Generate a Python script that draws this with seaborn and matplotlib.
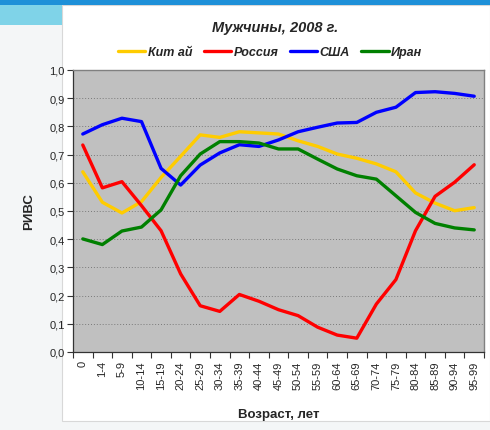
import numpy as np
import pandas as pd
import matplotlib
matplotlib.use("Agg")
import matplotlib.pyplot as plt
from matplotlib.patches import Rectangle
from matplotlib.ticker import FixedLocator, FuncFormatter
import seaborn as sns

ages = ["0", "1-4", "5-9", "10-14", "15-19", "20-24", "25-29", "30-34", "35-39",
        "40-44", "45-49", "50-54", "55-59", "60-64", "65-69", "70-74", "75-79",
        "80-84", "85-89", "90-94", "95-99"]
china = [0.639, 0.531, 0.493, 0.533, 0.619, 0.694, 0.770, 0.761, 0.781, 0.777, 0.773,
         0.749, 0.729, 0.702, 0.687, 0.667, 0.639, 0.564, 0.528, 0.501, 0.512]
russia = [0.734, 0.582, 0.604, 0.519, 0.430, 0.277, 0.164, 0.144, 0.204, 0.180, 0.150,
          0.129, 0.088, 0.060, 0.049, 0.170, 0.257, 0.430, 0.552, 0.602, 0.664]
usa = [0.773, 0.806, 0.829, 0.817, 0.651, 0.592, 0.663, 0.706, 0.735, 0.729, 0.752,
       0.781, 0.797, 0.812, 0.814, 0.850, 0.868, 0.920, 0.923, 0.917, 0.907]
iran = [0.401, 0.381, 0.429, 0.443, 0.504, 0.625, 0.702, 0.746, 0.746, 0.741, 0.720,
        0.720, 0.684, 0.649, 0.625, 0.613, 0.554, 0.495, 0.456, 0.440, 0.433]
series_names = ["Кит ай", "Россия", "США", "Иран"]
colors = ["#FFCC00", "#FF0000", "#0000FF", "#008000"]

df = pd.concat([
    pd.DataFrame({"x": np.arange(len(ages)), "v": vals, "s": name})
    for name, vals in zip(series_names, [china, russia, usa, iran])
])

sns.set_theme(style="white")
plt.rcParams["font.family"] = ["Liberation Sans", "DejaVu Sans"]

fig = plt.figure(figsize=(4.9, 4.31), dpi=100)
fig.patch.set_facecolor("#F4F6F7")
# slide decoration
fig.patches.append(Rectangle((62 / 490, 0.02), 428 / 490, 0.965, transform=fig.transFigure,
                             facecolor="white", edgecolor="#D8D8D8", lw=0.8, zorder=-5))
fig.patches.append(Rectangle((0, 0.985), 1, 0.015, transform=fig.transFigure,
                             facecolor="#1E90D8", edgecolor="none", zorder=-5))
fig.patches.append(Rectangle((0, 0.94), 62 / 490, 0.045, transform=fig.transFigure,
                             facecolor="#7FD3E8", edgecolor="none", zorder=-5))

ax = fig.add_axes([73 / 490, 1 - 353 / 431, (484 - 73) / 490, (353 - 71) / 431])
ax.set_facecolor("#C0C0C0")
ax.set_zorder(2)

sns.lineplot(data=df, x="x", y="v", hue="s", palette=colors, hue_order=series_names,
             linewidth=2.4, ax=ax, legend=True)

ax.set_xlim(-0.5, len(ages) - 0.5)
ax.set_ylim(0, 1.0)
ax.set_yticks(np.arange(0, 1.01, 0.1))
ax.yaxis.set_major_formatter(FuncFormatter(lambda v, p: f"{v:.1f}".replace(".", ",")))
ax.set_xticks(np.arange(len(ages)))
ax.set_xticklabels(ages, rotation=90, fontsize=8)
ax.xaxis.set_minor_locator(FixedLocator(np.arange(-0.5, len(ages), 1.0)))
ax.tick_params(axis="x", which="major", length=0, pad=6)
ax.tick_params(axis="x", which="minor", length=4, width=0.8, color="#333333", direction="out", bottom=True)
ax.tick_params(axis="y", which="major", length=4, width=0.8, color="#333333", direction="out", left=True, labelsize=8, pad=2)

for y in np.arange(0.1, 1.0, 0.1):
    ax.axhline(y, color="#7A7A7A", lw=0.7, ls=(0, (1, 2)), zorder=0)

for side in ["top", "right"]:
    ax.spines[side].set_color("#808080")
    ax.spines[side].set_linewidth(1)
for side in ["left", "bottom"]:
    ax.spines[side].set_color("#333333")
    ax.spines[side].set_linewidth(0.9)

ax.set_xlabel("Возраст, лет", fontsize=9.5, fontweight="bold", labelpad=14)
ax.set_ylabel("РИВС", fontsize=9.5, fontweight="bold", labelpad=10)

fig.text(275 / 490, 1 - 28 / 431, "Мужчины, 2008 г.", ha="center", va="center",
         fontsize=10.5, fontweight="bold", fontstyle="italic")

handles, labels = ax.get_legend_handles_labels()
leg = fig.legend(handles, labels, loc="center", bbox_to_anchor=(270 / 490, 1 - 53 / 431),
                 ncol=4, frameon=False, handlelength=2.2, handletextpad=0.2, columnspacing=0.9,
                 prop={"weight": "bold", "style": "italic", "size": 9})
ax.get_legend().remove()

fig.savefig("out.png", dpi=100, facecolor=fig.get_facecolor())
